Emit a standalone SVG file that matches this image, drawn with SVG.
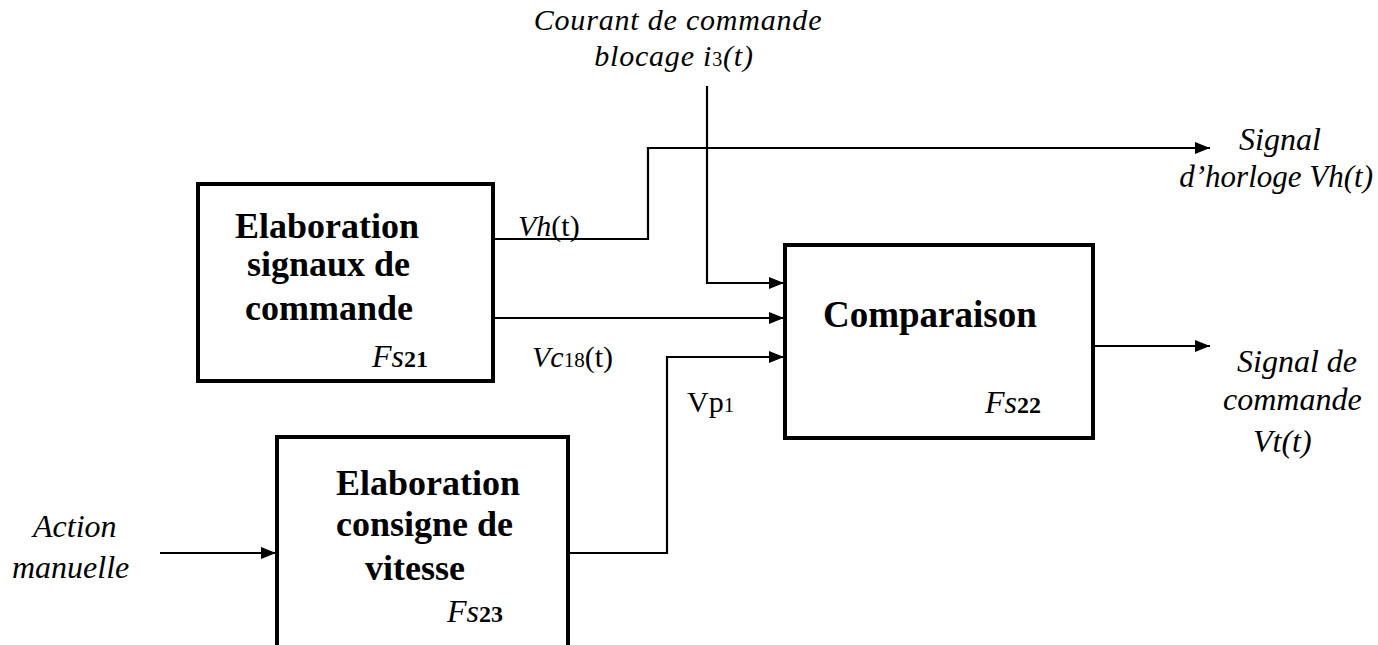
<svg xmlns="http://www.w3.org/2000/svg" width="1378" height="645" viewBox="0 0 1378 645">
<style>
.box{fill:#fff;stroke:#000;stroke-width:4}
.ln{fill:none;stroke:#000;stroke-width:2.2}
.b{font-family:"Liberation Serif",serif;font-weight:bold;font-size:36px;fill:#000}
.it{font-family:"Liberation Serif",serif;font-style:italic;font-size:32px;fill:#000}
.lab{font-family:"Liberation Serif",serif;font-size:30px;fill:#000}
.sub{font-style:normal;font-weight:bold;font-size:24px}
.sm{font-style:normal;font-size:20px}
</style>
<defs>
<marker id="ah" markerUnits="userSpaceOnUse" markerWidth="16" markerHeight="12" refX="15" refY="6" orient="auto">
<path d="M0,0 L15,6 L0,12 z" fill="#000"/>
</marker>
</defs>
<rect width="1378" height="645" fill="#fff"/>
<g id="connectors">
<polyline class="ln" points="493,239 648,239 648,148 1210,148" marker-end="url(#ah)"/>
<polyline class="ln" points="707,86 707,283 784,283" marker-end="url(#ah)"/>
<polyline class="ln" points="493,318 784,318" marker-end="url(#ah)"/>
<polyline class="ln" points="568,553 667,553 667,357 784,357" marker-end="url(#ah)"/>
<polyline class="ln" points="160,553 276,553" marker-end="url(#ah)"/>
<polyline class="ln" points="1093,346 1210,346" marker-end="url(#ah)"/>
</g>
<g id="fs21">
<rect class="box" x="198" y="184" width="295" height="197"/>
<text class="b" x="235" y="238">Elaboration</text>
<text class="b" x="247" y="276">signaux de</text>
<text class="b" x="245" y="320">commande</text>
<text class="it" x="372" y="367">Fs<tspan class="sub">21</tspan></text>
</g>
<g id="fs22">
<rect class="box" x="785" y="245" width="308" height="193"/>
<text class="b" x="823" y="327" style="font-size:37px">Comparaison</text>
<text class="it" x="985" y="413">Fs<tspan class="sub">22</tspan></text>
</g>
<g id="fs23">
<rect class="box" x="277" y="437" width="291" height="230"/>
<text class="b" x="336" y="495">Elaboration</text>
<text class="b" x="336" y="536">consigne de</text>
<text class="b" x="365" y="580">vitesse</text>
<text class="it" x="447" y="622">Fs<tspan class="sub">23</tspan></text>
</g>
<g id="labels">
<text class="it" x="678" y="30" text-anchor="middle" style="font-size:30px;letter-spacing:0.8px">Courant de commande</text>
<text class="it" x="674" y="66" text-anchor="middle" style="font-size:30px;letter-spacing:0.8px">blocage i<tspan class="sm">3</tspan>(t)</text>
<text class="it" x="1280" y="150" text-anchor="middle">Signal</text>
<text class="it" x="1373" y="187" text-anchor="end" style="font-size:31px">d’horloge Vh(t)</text>
<text class="it" x="1237" y="372">Signal de</text>
<text class="it" x="1223" y="410">commande</text>
<text class="it" x="1253" y="452">Vt(t)</text>
<text class="it" x="33" y="537">Action</text>
<text class="it" x="12" y="578">manuelle</text>
<text class="lab" x="518" y="236"><tspan font-style="italic">Vh</tspan>(t)</text>
<text class="lab" x="532" y="367"><tspan font-style="italic">Vc</tspan><tspan font-size="21">18</tspan>(t)</text>
<text class="lab" x="687" y="412">Vp<tspan font-size="21">1</tspan></text>
</g>
</svg>
